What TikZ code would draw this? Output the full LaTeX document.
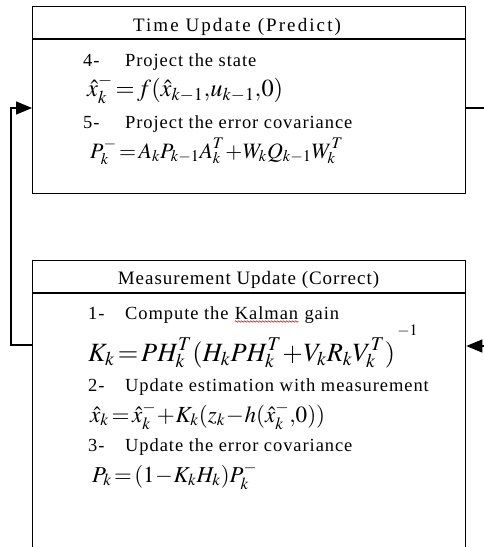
\documentclass[tikz,border=0pt]{standalone}
\usepackage{graphicx}
\usepackage{mathptmx}
\usepackage[no-math]{fontspec}
\setmainfont{Liberation Serif}
\usetikzlibrary{arrows.meta,decorations.pathmorphing}
\newcommand\eqfit[2]{\resizebox{#1}{!}{$\displaystyle #2$}}
\newcommand\bodyfnt{\fontsize{18.5}{20}\selectfont\addfontfeature{LetterSpace=5}}
\newcommand\hdrfnt{\fontsize{19}{21}\selectfont\addfontfeature{LetterSpace=5}}
\begin{document}
\begin{tikzpicture}[x=1pt,y=-1pt,
  box/.style={draw,line width=1.3pt,minimum width=433pt,inner sep=0pt,anchor=north west},
  txt/.style={inner sep=0pt,anchor=base west,font=\bodyfnt},
  hdr/.style={inner sep=0pt,anchor=base,font=\hdrfnt},
  conn/.style={line width=1.3pt},
  tip/.style={-{Triangle[length=16pt,width=13pt]}}]
\useasboundingbox (0,0) rectangle (484,547);
\clip (0,0) rectangle (484,547);
\fill[white] (0,0) rectangle (484,547);
% boxes
\node[box,minimum height=187pt] (tu) at (32,6) {};
\node[box,minimum height=330pt] (mu) at (32,260) {};
\draw[line width=1.3pt] ([yshift=-33pt]tu.north west) -- ([yshift=-33pt]tu.north east);
\draw[line width=1.3pt] ([yshift=-33pt]mu.north west) -- ([yshift=-33pt]mu.north east);
% connectors
\coordinate (lc1) at (11,108);
\coordinate (lc2) at (11,345);
\coordinate (rc1) at (484,108);
\coordinate (rc2) at (484,346);
\draw[conn,tip] (mu.west |- lc2) -- (lc2) -- (lc1) -- (tu.west |- lc1);
\draw[conn] (tu.east |- rc1) -- (rc1);
\draw[conn,tip] (rc2) -- (mu.east |- rc2);
% time update texts
\node[hdr,font=\hdrfnt\addfontfeature{LetterSpace=11}] (th) at (237,31) {Time Update (Predict)};
\node[txt] (n4) at (83,66.5) {\makebox[42pt][l]{4-}Project the state};
\node[txt] (e1) at (87,96) {\eqfit{196pt}{\hat{x}_k^{-}\!=\!f(\hat{x}_{k-1}{,}u_{k-1}{,}0)}};
\node[txt] (n5) at (83,128) {\makebox[42pt][l]{5-}Project the error covariance};
\node[txt] (e2) at (90,158) {\eqfit{253pt}{P_k^{-}\!=\!A_kP_{k-1}A_k^T\!+\!W_kQ_{k-1}W_k^T}};
% measurement update texts
\node[hdr] (mh) at (248.5,284) {Measurement Update (Correct)};
\node[txt] (n1) at (88,319) {\makebox[37pt][l]{1-}Compute the};
\node[txt] (kal) at ([xshift=6pt]n1.base east) {Kalman};
\node[txt] (gain) at ([xshift=6pt]kal.base east) {gain};
\draw[red,line width=0.6pt,decorate,decoration={snake,amplitude=0.8pt,segment length=3pt}]
  ([yshift=-2.5pt]kal.base west) -- ([yshift=-2.5pt]kal.base east);
\node[txt] (e3) at (88,361) {\eqfit{330pt}{K_k\!=\!PH_k^T(H_kPH_k^T\!+\!V_kR_kV_k^T)^{\,\raisebox{10pt}{$\scriptscriptstyle -1$}}}};
\node[txt] (n2) at (88,391) {\makebox[37pt][l]{2-}Update estimation with measurement};
\node[txt] (e4) at (90,422) {\eqfit{235pt}{\hat{x}_k\!=\!\hat{x}_k^{-}\!+\!K_k(z_k\!-\!h(\hat{x}_k^{-}{,}0))}};
\node[txt] (n3) at (88,451) {\makebox[37pt][l]{3-}Update the error covariance};
\node[txt] (e5) at (92,482) {\eqfit{165pt}{P_k\!=\!(1\!-\!K_kH_k)P_k^{-}}};
\end{tikzpicture}
\end{document}
